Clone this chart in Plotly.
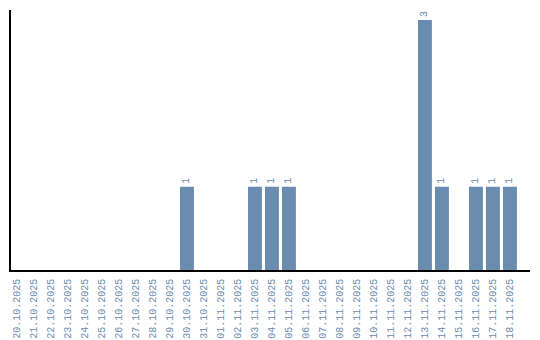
import plotly.graph_objects as go

dates = ["20.10.2025","21.10.2025","22.10.2025","23.10.2025","24.10.2025","25.10.2025",
         "26.10.2025","27.10.2025","28.10.2025","29.10.2025","30.10.2025","31.10.2025",
         "01.11.2025","02.11.2025","03.11.2025","04.11.2025","05.11.2025","06.11.2025",
         "07.11.2025","08.11.2025","09.11.2025","10.11.2025","11.11.2025","12.11.2025",
         "13.11.2025","14.11.2025","15.11.2025","16.11.2025","17.11.2025","18.11.2025"]
counts = [0,0,0,0,0,0,0,0,0,0,1,0,0,0,1,1,1,0,0,0,0,0,0,0,3,1,0,1,1,1]
labels = [str(c) if c else "" for c in counts]

color = "#6a8caf"
fig = go.Figure(go.Bar(
    x=dates, y=counts, marker_color=color, marker_line_width=0,
    text=labels, textposition="outside", textangle=-90, cliponaxis=False,
    textfont=dict(family="Liberation Mono", size=10, color=color),
))
fig.update_layout(
    width=540, height=340, margin=dict(l=11, r=10, t=10, b=70),
    plot_bgcolor="white", paper_bgcolor="white", bargap=0.18, showlegend=False,
)
fig.update_xaxes(type="category", range=[-0.35, 30.18], tickangle=-90, automargin=False,
                 tickfont=dict(family="Liberation Mono", size=10, color=color),
                 ticklabelstandoff=3,
                 showline=True, linecolor="black", linewidth=1.5, ticks="", showgrid=False)
fig.update_yaxes(range=[0, 3.12], showline=True, linecolor="black", linewidth=1.5,
                 showticklabels=False, ticks="", showgrid=False, zeroline=False)
fig.write_html("out.html")
